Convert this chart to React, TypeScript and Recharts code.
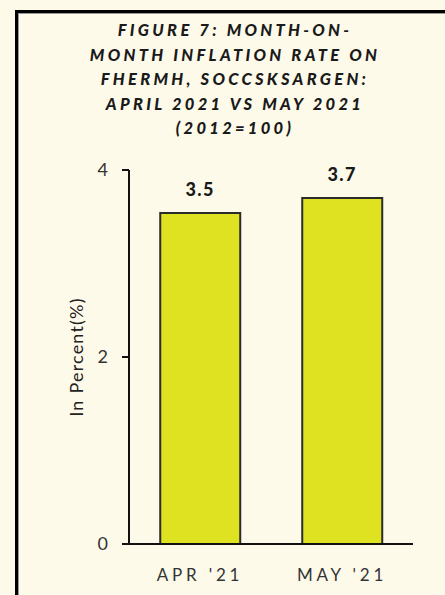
import React from 'react';
import { BarChart, Bar, XAxis, YAxis, LabelList, Label } from 'recharts';

const categories = ["APR '21", "MAY '21"];
const values = [3.54, 3.7];
const yTicks = [0, 2, 4];
const titleLines = [
  'FIGURE 7: MONTH-ON-',
  'MONTH INFLATION RATE ON',
  'FHERMH, SOCCSKSARGEN:',
  'APRIL 2021 VS MAY 2021',
  '(2012=100)',
];

const data = categories.map((c, i) => ({ name: c, value: values[i] }));

const FONT = 'Lato, "Open Sans", sans-serif';
const BG = '#FEFAEA';

export default function App() {
  return (
    <div style={{ position: 'absolute', left: 0, top: 0, width: 445, height: 595, background: BG, overflow: 'hidden', fontFamily: FONT }}>
      <div style={{ position: 'absolute', left: 15, top: 10, width: 450, height: 620, borderTop: '3px solid #000', borderLeft: '3px solid #000', boxShadow: 'inset 1px 1px 0 #999' }} />
      <div style={{ position: 'absolute', left: 20, top: 18, width: 430, textAlign: 'center' }}>
        {titleLines.map((t, i) => (
          <div key={i} style={{ height: 24.5, lineHeight: '24.5px', fontSize: 16.5, fontWeight: 900, fontStyle: 'italic', letterSpacing: 3.3, color: '#1a1a1a', whiteSpace: 'nowrap' }}>{t}</div>
        ))}
      </div>
      <div style={{ position: 'absolute', left: 0, top: 0 }}>
        <BarChart width={445} height={595} data={data} margin={{ top: 170, right: 32, bottom: 11, left: 0 }} barCategoryGap="22%">
          <XAxis
            dataKey="name"
            height={40}
            axisLine={{ stroke: '#111', strokeWidth: 2 }}
            tickLine={false}
            tickSize={0}
            tickMargin={25}
            tick={{ fill: '#333', fontSize: 17, letterSpacing: 3.8, fontFamily: FONT }}
            interval={0}
          />
          <YAxis
            width={129}
            domain={[0, 4]}
            ticks={yTicks}
            axisLine={{ stroke: '#111', strokeWidth: 2 }}
            tickLine={{ stroke: '#111', strokeWidth: 2 }}
            tickSize={7}
            tickMargin={14}
            tick={{ fill: '#333', fontSize: 18, fontFamily: FONT }}
          >
            <Label value="In Percent(%)" angle={-90} position="center" dx={12} style={{ fill: '#222', fontSize: 18, fontFamily: FONT, letterSpacing: 1.2 }} />
          </YAxis>
          <Bar dataKey="value" fill="#DFE220" stroke="#2b2b2b" strokeWidth={2} isAnimationActive={false}>
            <LabelList dataKey="value" position="top" offset={17} formatter={(v: number) => v.toFixed(1)} style={{ fill: '#1a1a1a', fontSize: 18, fontWeight: 900, fontFamily: FONT, letterSpacing: 1.5 }} />
          </Bar>
        </BarChart>
      </div>
    </div>
  );
}
